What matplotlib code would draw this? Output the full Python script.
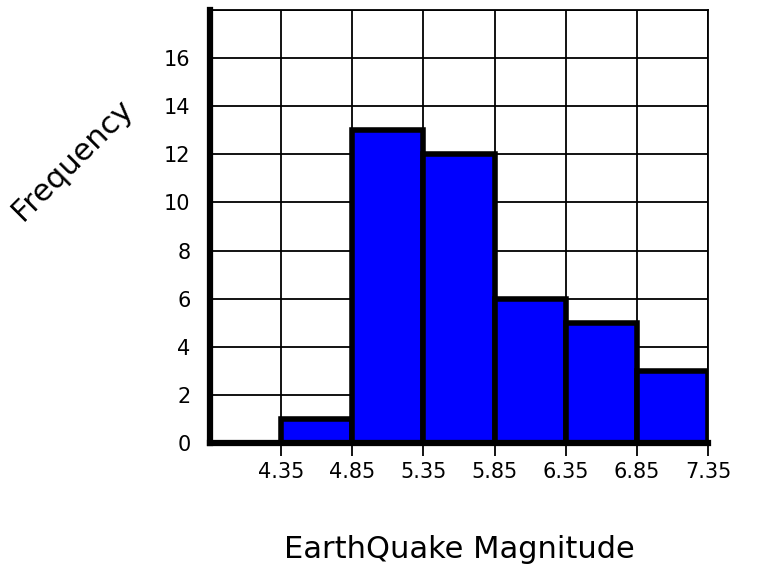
import matplotlib.pyplot as plt

# histogram of earthquake magnitudes
bin_left = [4.35, 4.85, 5.35, 5.85, 6.35, 6.85]
freq = [1, 13, 12, 6, 5, 3]
x_ticks = [4.35, 4.85, 5.35, 5.85, 6.35, 6.85, 7.35]
x_labels = ["4.35", "4.85", "5.35", "5.85", "6.35", "6.85", "7.35"]
y_ticks = [0, 2, 4, 6, 8, 10, 12, 14, 16]

fig = plt.figure(figsize=(7.76, 5.75), dpi=100)
ax = fig.add_axes([210 / 776, 132 / 575, 498 / 776, 433 / 575])

# grid first so the bars sit on top
for gx in [3.85] + x_ticks:
    ax.axvline(gx, color="black", lw=1.3, zorder=1)
for gy in y_ticks + [18]:
    ax.axhline(gy, color="black", lw=1.3, zorder=1)

ax.bar(bin_left, freq, width=0.5, align="edge", color="#0000ff",
       edgecolor="black", linewidth=4, zorder=3)

ax.set_xlim(3.85, 7.35)
ax.set_ylim(0, 18)
ax.set_xticks(x_ticks)
ax.set_xticklabels(x_labels, fontsize=15)
ax.set_yticks(y_ticks)
ax.set_yticklabels([str(v) for v in y_ticks], fontsize=15)
ax.tick_params(axis="x", direction="out", length=9, width=1.3, pad=5)
ax.tick_params(axis="y", length=0, pad=14)

for side in ["left", "bottom"]:
    ax.spines[side].set_linewidth(4.5)
    ax.spines[side].set_zorder(5)
for side in ["top", "right"]:
    ax.spines[side].set_linewidth(1.3)

ax.set_xlabel("EarthQuake Magnitude", fontsize=22, labelpad=38)
fig.text(72 / 776, 1 - 160 / 575, "Frequency", fontsize=22, rotation=45,
         ha="center", va="center")

fig.savefig("out.png", dpi=100)
